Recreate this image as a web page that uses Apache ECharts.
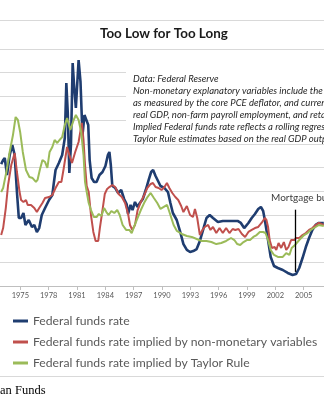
<!DOCTYPE html>
<html><head><meta charset="utf-8">
<script src="https://cdn.jsdelivr.net/npm/echarts@6/dist/echarts.min.js"></script>
<style>html,body{margin:0;padding:0;background:#fff;overflow:hidden;width:324px;height:400px;position:relative}#c{position:absolute;left:-11px;top:0;width:346px;height:400px}</style>
</head><body><div id="c"></div>
<script>
const BASE_YEAR = 1972;
const xTickLabels = ['1975','1978','1981','1984','1987','1990','1993','1996','1999','2002','2005'];
const seriesNames = ['Federal funds rate','Federal funds rate implied by non-monetary variables','Federal funds rate implied by Taylor Rule'];

// [year, rate %]
const fedFunds = [[1972.97,10.29],[1973.18,10.63],[1973.35,10.80],[1973.59,9.37],[1973.87,11.05],[1974.15,11.90],[1974.40,11.05],[1974.64,7.93],[1974.84,5.74],[1975.08,5.74],[1975.33,6.16],[1975.54,5.15],[1975.89,5.57],[1976.23,4.98],[1976.48,5.15],[1976.75,4.56],[1977.00,4.89],[1977.27,5.99],[1977.62,6.58],[1978.04,7.26],[1978.39,7.68],[1978.56,8.78],[1978.73,9.79],[1979.08,10.38],[1979.43,11.05],[1979.71,12.49],[1979.87,17.13],[1980.02,14.68],[1980.19,9.54],[1980.36,11.90],[1980.54,18.82],[1980.71,16.71],[1980.88,15.02],[1981.17,19.07],[1981.37,17.22],[1981.58,12.74],[1981.79,14.43],[1981.98,14.51],[1982.19,13.59],[1982.34,10.63],[1982.55,9.11],[1982.81,8.78],[1983.07,8.78],[1983.38,9.37],[1983.70,9.62],[1984.01,10.13],[1984.27,11.05],[1984.43,11.31],[1984.58,10.21],[1984.74,8.44],[1985.05,8.27],[1985.36,7.85],[1985.68,8.10],[1985.99,7.34],[1986.25,6.92],[1986.41,6.08],[1986.67,6.84],[1986.88,6.41],[1987.14,7.09],[1987.40,6.67],[1987.66,7.00],[1987.97,7.34],[1988.28,8.10],[1988.59,8.95],[1988.85,9.62],[1989.06,9.79],[1989.32,9.28],[1989.58,8.86],[1989.84,8.44],[1990.26,8.27],[1990.63,7.93],[1990.89,7.00],[1991.15,6.16],[1991.56,5.57],[1991.93,4.56],[1992.27,3.54],[1992.63,3.04],[1992.97,2.87],[1993.31,2.95],[1993.67,3.12],[1994.01,3.80],[1994.35,4.73],[1994.71,5.74],[1995.05,5.99],[1995.40,5.74],[1995.92,5.40],[1996.44,5.49],[1996.96,5.49],[1997.48,5.49],[1998.00,5.49],[1998.35,5.32],[1998.70,4.89],[1999.15,5.32],[1999.50,5.74],[1999.84,6.08],[2000.19,6.50],[2000.47,6.67],[2000.71,6.33],[2000.89,5.57],[2001.23,3.88],[2001.51,2.45],[2001.86,1.69],[2002.27,1.52],[2002.79,1.35],[2003.31,1.10],[2003.83,0.93],[2004.19,1.01],[2004.53,1.52],[2004.88,2.36],[2005.23,3.29],[2005.57,4.05],[2005.92,4.73],[2006.27,5.15],[2006.61,5.32],[2007.13,5.32]];

const nonMonetary = [[1972.97,4.30],[1973.18,4.89],[1973.46,6.58],[1973.70,8.52],[1974.04,10.21],[1974.40,11.22],[1974.64,9.62],[1974.92,7.93],[1975.08,7.26],[1975.33,7.09],[1975.60,7.26],[1975.78,6.84],[1976.13,6.84],[1976.48,6.58],[1976.75,6.24],[1977.00,6.58],[1977.34,7.00],[1977.62,7.43],[1978.04,7.51],[1978.39,7.68],[1978.73,8.27],[1979.08,8.78],[1979.35,8.78],[1979.60,9.96],[1979.95,11.73],[1980.19,11.05],[1980.47,10.38],[1980.81,11.31],[1981.17,12.15],[1981.51,13.76],[1981.69,12.32],[1981.85,10.21],[1982.03,8.44],[1982.24,7.93],[1982.48,5.99],[1982.73,4.56],[1982.97,3.80],[1983.25,3.80],[1983.42,4.89],[1983.67,6.24],[1983.94,7.76],[1984.19,8.19],[1984.43,8.35],[1984.74,8.52],[1985.05,8.35],[1985.40,7.76],[1985.75,7.51],[1986.09,7.00],[1986.41,6.08],[1986.61,5.15],[1986.85,4.73],[1987.14,5.15],[1987.42,6.41],[1987.71,7.00],[1988.07,7.59],[1988.44,8.27],[1988.80,8.61],[1989.04,8.69],[1989.32,8.35],[1989.64,8.27],[1989.95,8.10],[1990.26,8.35],[1990.52,8.69],[1990.78,8.27],[1991.09,7.85],[1991.41,7.51],[1991.72,7.26],[1992.03,6.75],[1992.27,6.24],[1992.63,6.75],[1992.97,5.99],[1993.28,5.82],[1993.49,6.50],[1993.73,5.74],[1994.01,4.30],[1994.29,4.73],[1994.53,4.98],[1994.88,5.15],[1995.13,4.73],[1995.40,4.98],[1995.75,4.47],[1996.09,4.89],[1996.44,4.47],[1996.79,4.89],[1997.14,4.47],[1997.48,4.81],[1997.76,4.73],[1998.10,4.81],[1998.46,4.39],[1998.80,4.14],[1999.15,4.56],[1999.50,4.73],[1999.84,4.89],[2000.19,4.98],[2000.54,5.32],[2000.89,5.74],[2001.06,5.57],[2001.23,4.98],[2001.40,3.88],[2001.64,3.21],[2001.93,3.29],[2002.10,3.04],[2002.34,3.63],[2002.62,3.21],[2002.90,3.71],[2003.15,3.04],[2003.39,3.29],[2003.67,3.88],[2004.01,3.88],[2004.19,4.05],[2004.53,4.05],[2004.88,4.30],[2005.23,4.47],[2005.57,4.73],[2005.92,4.89],[2006.27,5.15],[2006.61,5.32],[2007.13,5.15]];

const taylorRule = [[1972.97,7.93],[1973.18,8.27],[1973.52,9.62],[1973.87,11.31],[1974.22,12.74],[1974.50,14.26],[1974.74,14.01],[1974.98,13.00],[1975.26,11.31],[1975.60,9.79],[1975.96,9.20],[1976.30,9.11],[1976.65,8.78],[1976.82,8.95],[1977.06,9.79],[1977.34,10.63],[1977.62,10.46],[1977.86,9.96],[1978.10,11.31],[1978.39,11.73],[1978.63,12.32],[1978.91,12.07],[1979.15,12.32],[1979.43,12.57],[1979.71,13.59],[1979.95,14.18],[1980.29,13.16],[1980.65,14.01],[1980.88,14.43],[1981.17,14.01],[1981.44,13.00],[1981.69,11.05],[1981.85,8.78],[1982.03,7.93],[1982.24,7.00],[1982.48,6.41],[1982.79,5.82],[1983.07,5.82],[1983.31,6.08],[1983.59,5.91],[1983.87,6.58],[1984.11,6.24],[1984.35,5.99],[1984.64,6.33],[1984.95,6.16],[1985.26,6.41],[1985.52,5.99],[1985.83,5.15],[1986.20,4.73],[1986.54,4.73],[1986.79,4.47],[1987.03,4.98],[1987.42,5.74],[1987.76,6.41],[1988.10,7.00],[1988.46,7.51],[1988.80,7.85],[1989.14,7.43],[1989.50,7.00],[1989.84,6.50],[1990.19,6.67],[1990.54,6.84],[1990.89,5.99],[1991.23,5.15],[1991.58,4.64],[1992.10,4.39],[1992.63,4.22],[1993.15,4.14],[1993.67,3.97],[1994.19,3.80],[1994.71,3.80],[1995.23,3.71],[1995.75,3.54],[1996.27,3.63],[1996.79,3.80],[1997.31,4.05],[1997.66,3.88],[1997.97,3.54],[1998.28,3.46],[1998.63,3.71],[1998.98,3.88],[1999.32,3.88],[1999.67,4.14],[2000.02,4.30],[2000.36,4.56],[2000.71,4.56],[2000.96,4.47],[2001.23,3.88],[2001.51,3.04],[2001.86,2.62],[2002.27,2.45],[2002.79,2.45],[2003.15,2.78],[2003.49,2.62],[2003.73,3.21],[2004.08,3.46],[2004.53,3.88],[2005.05,4.30],[2005.40,4.47],[2005.75,4.73],[2006.27,4.98],[2006.61,5.15],[2007.13,5.06]];

const mortgageArrow = [[2004.08, 6.44], [2004.08, 1.19]];
const annotationText = 'Mortgage bubble';
const noteLines = [
  'Data: Federal Reserve',
  'Non-monetary explanatory variables include the rate of inflation,',
  'as measured by the core PCE deflator, and current and lagged growth in',
  'real GDP, non-farm payroll employment, and retail sales.',
  'Implied Federal funds rate reflects a rolling regression of the',
  'Taylor Rule estimates based on the real GDP output gap and inflation.'
];

const OFF = 11; // container is shifted 11px left of the page
const shift = d => [d[0] - BASE_YEAR, d[1]];
const chart = echarts.init(document.getElementById('c'), null, {renderer: 'canvas'});
const FONT = 'Lato';

const noteGraphics = noteLines.map((t, i) => ({
  type: 'text', z: 5,
  style: {text: t, x: 133 + OFF, y: 79 + i * 11.9, fill: '#262626', font: 'italic 9.5px Lato', verticalAlign: 'middle'}
}));

chart.setOption({
  animation: false,
  backgroundColor: '#fff',
  title: {
    text: 'Too Low for Too Long', left: 100 + OFF, top: 27, padding: 0,
    textStyle: {fontFamily: FONT, fontWeight: 'bold', fontSize: 13.4, color: '#1a1a1a'}
  },
  grid: {left: 0, right: 0.4, top: 49, bottom: 114, containLabel: false},
  xAxis: {
    type: 'value', min: 0, max: 36, interval: 3,
    axisLine: {lineStyle: {color: '#bfbfbf', width: 1}},
    axisTick: {show: true, length: 4, lineStyle: {color: '#bfbfbf'}},
    axisLabel: {
      margin: 6, fontFamily: FONT, fontSize: 7.5, color: '#595959',
      formatter: v => { const y = String(Math.round(v + BASE_YEAR)); return xTickLabels.includes(y) ? y : ''; }
    },
    splitLine: {show: false}
  },
  yAxis: {
    type: 'value', min: 0, max: 20, interval: 2,
    axisLabel: {show: false}, axisLine: {show: false}, axisTick: {show: false},
    splitLine: {lineStyle: {color: '#d9d9d9', width: 1}}
  },
  legend: {
    orient: 'vertical', left: 13 + OFF, top: 314, padding: 0, itemWidth: 15, itemHeight: 3, itemGap: 7,
    icon: 'rect', data: seriesNames,
    textStyle: {fontFamily: FONT, fontSize: 12.2, color: '#595959', lineHeight: 14}
  },
  series: [
    {name: seriesNames[0], type: 'line', symbol: 'none', data: fedFunds.map(shift),
     color: '#1f3d70', lineStyle: {width: 2.6, color: '#1f3d70'},
     markLine: {silent: true, symbol: ['none', 'arrow'], symbolSize: [0, 8],
       label: {show: false}, lineStyle: {color: '#000', width: 1.3, type: 'solid'},
       data: [[{coord: shift(mortgageArrow[0])}, {coord: shift(mortgageArrow[1])}]]}},
    {name: seriesNames[1], type: 'line', symbol: 'none', data: nonMonetary.map(shift),
     color: '#c0504d', lineStyle: {width: 2, color: '#c0504d'}},
    {name: seriesNames[2], type: 'line', symbol: 'none', data: taylorRule.map(shift),
     color: '#9bbb59', lineStyle: {width: 2, color: '#9bbb59'}}
  ],
  graphic: [
    {type: 'line', z: 5, shape: {x1: 0, y1: 20.5, x2: 346, y2: 20.5}, style: {stroke: '#d9d9d9', lineWidth: 1}},
    {type: 'line', z: 5, shape: {x1: 0, y1: 376.5, x2: 346, y2: 376.5}, style: {stroke: '#d9d9d9', lineWidth: 1}},
    {type: 'rect', z: 1, shape: {x: 126 + OFF, y: 67, width: 210, height: 76}, style: {fill: '#fff'}},
    ...noteGraphics,
    {type: 'text', z: 5, style: {text: annotationText, x: 271 + OFF, y: 198, fill: '#404040', font: '10px Lato', verticalAlign: 'middle'}},
    {type: 'text', z: 5, style: {text: 'an Funds', x: OFF, y: 391, fill: '#000', font: '12.5px "Liberation Serif"', verticalAlign: 'middle'}}
  ]
});
</script></body></html>
